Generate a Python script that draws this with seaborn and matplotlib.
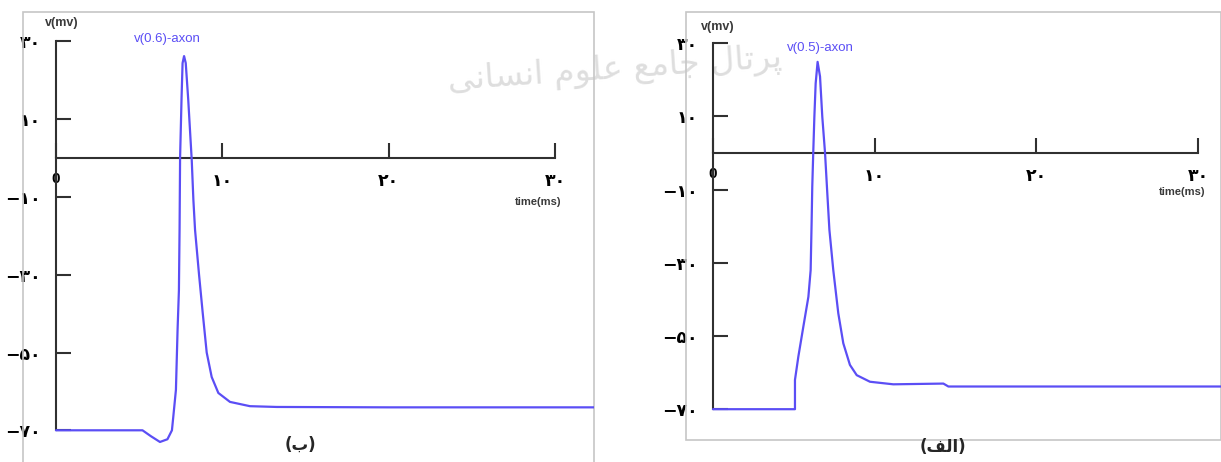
import matplotlib
matplotlib.use("Agg")
import matplotlib.pyplot as plt
from matplotlib.patches import Rectangle
import pandas as pd
import seaborn as sns

# Panel (ب): membrane potential recorded at v(0.6) of the axon
t_b = [0.0, 5.2, 5.7, 6.25, 6.7, 6.97, 7.05, 7.21, 7.31, 7.39, 7.43, 7.46,
       7.55, 7.61, 7.7, 7.8, 7.95, 8.1, 8.16, 8.26, 8.36, 8.6, 8.82, 9.06,
       9.36, 9.76, 10.46, 11.66, 13.27, 20.0, 32.5]
v_b = [-70.0, -70.0, -71.5, -73.0, -72.3, -70.0, -66.6, -59.6, -44.0, -34.0,
       -18.0, 0.0, 15.7, 24.4, 26.2, 24.4, 15.0, 3.9, -0.5, -10.8, -18.5,
       -30.0, -39.8, -50.0, -56.3, -60.4, -62.7, -63.8, -64.0, -64.1, -64.1]

# Panel (الف): membrane potential recorded at v(0.5) of the axon
t_a = [0.0, 5.07, 5.07, 5.28, 5.59, 5.9, 6.04, 6.1, 6.14, 6.2, 6.27, 6.35,
       6.47, 6.62, 6.76, 6.93, 7.07, 7.2, 7.44, 7.75, 8.06, 8.47, 8.89, 9.71,
       11.15, 14.25, 14.56, 31.5]
v_a = [-70.0, -70.0, -62.0, -55.6, -47.4, -39.3, -32.0, -19.0, -9.2, 0.0,
       9.9, 19.0, 24.9, 20.9, 9.9, 0.0, -11.0, -21.0, -32.0, -43.8, -52.0,
       -57.9, -60.7, -62.5, -63.2, -63.0, -63.8, -63.8]

x_ticks = [0, 10, 20, 30]
x_labels = ["0", "\u06f1\u06f0", "\u06f2\u06f0", "\u06f3\u06f0"]
y_ticks = [30, 10, -10, -30, -50, -70]
y_labels = ["\u06f3\u06f0", "\u06f1\u06f0", "\u2212\u06f1\u06f0",
            "\u2212\u06f3\u06f0", "\u2212\u06f5\u06f0", "\u2212\u06f7\u06f0"]

trace_labels = ["v(0.6)-axon", "v(0.5)-axon"]

# shaped (visual order) Persian strings
label_b = "(\ufe8f)"
label_a = "(\ufed2\ufedf\ufe8d)"
watermark = ("\ufef0\ufee7\ufe8e\ufeb4\ufee7\ufe8d \ufee1\ufeee\ufee0\ufecb "
             "\ufeca\ufee3\ufe8e\ufe9f \ufedd\ufe8e\ufe97\ufeae\ufb58")

sns.set_theme(style="white")
plt.rcParams["font.family"] = ["Liberation Sans", "DejaVu Sans"]

W, H = 1221, 462
fig = plt.figure(figsize=(W / 100, H / 100), dpi=100)
fig.patch.set_facecolor("white")

LINE = "#5b4ef5"
AXC = "#303030"


def make_panel(px_box, px_origin, px_per_ms, px_per_mv, t, v, trace, txt_pos):
    x0, y0, x1, y1 = px_box
    ox, oy = px_origin
    ax = fig.add_axes([x0 / W, 1 - y1 / H, (x1 - x0) / W, (y1 - y0) / H])
    ax.set_facecolor("none")
    ax.set_xlim((x0 - ox) / px_per_ms, (x1 - ox) / px_per_ms)
    ax.set_ylim((oy - y1) / px_per_mv, (oy - y0) / px_per_mv)

    df = pd.DataFrame({"time": t, "v": v})
    sns.lineplot(data=df, x="time", y="v", ax=ax, color=LINE, linewidth=1.6,
                 estimator=None, sort=False, zorder=3)

    for side in ("top", "right"):
        ax.spines[side].set_visible(False)
    ax.spines["left"].set_position(("data", 0))
    ax.spines["bottom"].set_position(("data", 0))
    ax.spines["left"].set_bounds(-70, 30)
    ax.spines["bottom"].set_bounds(0, 30)
    for side in ("left", "bottom"):
        ax.spines[side].set_color(AXC)
        ax.spines[side].set_linewidth(1.5)
        ax.spines[side].set_zorder(2)

    ax.set_xticks(x_ticks)
    ax.set_xticklabels(x_labels)
    ax.set_yticks(y_ticks)
    ax.set_yticklabels(y_labels)
    ax.tick_params(axis="both", direction="in", length=11, width=1.5,
                   color=AXC, labelcolor="black", bottom=True, left=True)
    ax.tick_params(axis="y", pad=11, labelsize=12.5)
    ax.tick_params(axis="x", pad=10, labelsize=12.5)
    for lab in ax.get_yticklabels() + ax.get_xticklabels()[1:]:
        lab.set_fontfamily("DejaVu Sans")
        lab.set_fontweight("bold")
    ax.get_xticklabels()[0].set_fontweight("bold")
    ax.get_xticklabels()[0].set_fontsize(11)
    ax.set_xlabel("")
    ax.set_ylabel("")

    # outer frame of the panel
    ax.add_patch(Rectangle((0, 0), 1, 1, transform=ax.transAxes, fill=False,
                           edgecolor="#c6c6c6", linewidth=1.2, clip_on=False,
                           zorder=1))

    (vx, vy), (lx, ly), (tx, ty) = txt_pos
    ax.text(vx, vy, "v(mv)", fontsize=9, fontweight="bold", color="#3a3a3a",
            ha="center", va="center")
    ax.text(lx, ly, trace, fontsize=9.5, color=LINE, ha="center", va="center")
    ax.text(tx, ty, "time(ms)", fontsize=8, fontweight="bold", color="#3a3a3a",
            ha="center", va="center")
    return ax


make_panel((23, 12, 594, 463), (56, 158), 16.633, 3.89, t_b, v_b,
           trace_labels[0], ((0.35, 34.6), (6.67, 30.5), (29.0, -11.3)))
make_panel((686, 12, 1221, 440), (713, 153), 16.167, 3.66, t_a, v_a,
           trace_labels[1], ((0.31, 34.4), (6.62, 28.6), (29.0, -10.7)))

fig.text(300 / W, 1 - 445 / H, label_b, fontsize=12, fontweight="bold",
         family="DejaVu Sans", ha="center", va="center")
fig.text(943 / W, 1 - 447 / H, label_a, fontsize=12, fontweight="bold",
         family="DejaVu Sans", ha="center", va="center")
fig.text(615 / W, 1 - 70 / H, watermark, fontsize=24, family="DejaVu Sans",
         color="#dedede", ha="center", va="center", rotation=4, zorder=-1)

fig.savefig("out.png", dpi=100, facecolor="white")
